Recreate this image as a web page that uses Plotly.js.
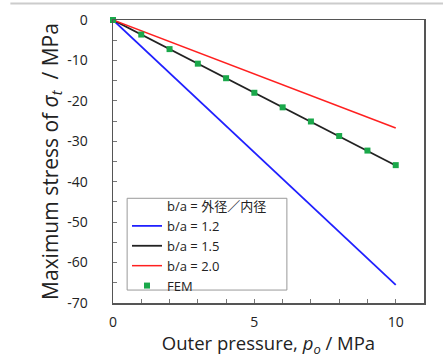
<!DOCTYPE html>
<html>
<head>
<meta charset="utf-8">
<script src="https://cdn.plot.ly/plotly-3.0.1.min.js"></script>
<style>html,body{margin:0;padding:0;background:#fff;}#chart{width:443px;height:358px;}</style>
</head>
<body>
<div id="chart"></div>
<script>
var lineX = [0, 10];
var ratio12 = [0, -65.5];
var ratio15 = [0, -36.0];
var ratio20 = [0, -26.7];
var femX = [0, 1, 2, 3, 4, 5, 6, 7, 8, 9, 10];
var femY = [0, -3.6, -7.2, -10.8, -14.4, -18.0, -21.6, -25.1, -28.7, -32.3, -35.9];
var xTicks = [0, 5, 10];
var yTicks = [0, -10, -20, -30, -40, -50, -60, -70];

var font = "'Open Sans', 'Noto Sans', 'Noto Sans CJK JP', sans-serif";

var traces = [
  {x: [null], y: [null], mode: 'lines', name: 'b/a = 外径／内径', line: {color: 'rgba(0,0,0,0)', width: 0}, hoverinfo: 'skip'},
  {x: lineX, y: ratio12, mode: 'lines', name: 'b/a = 1.2', line: {color: '#2020ff', width: 1.8}},
  {x: lineX, y: ratio15, mode: 'lines', name: 'b/a = 1.5', line: {color: '#222222', width: 1.8}},
  {x: lineX, y: ratio20, mode: 'lines', name: 'b/a = 2.0', line: {color: '#ff2020', width: 1.5}},
  {x: femX, y: femY, mode: 'markers', name: 'FEM', cliponaxis: false, marker: {color: '#1aa84a', symbol: 'square', size: 6}}
];

var layout = {
  width: 443, height: 358,
  margin: {l: 113, r: 19, t: 20, b: 55},
  paper_bgcolor: '#fff', plot_bgcolor: '#fff',
  font: {family: font, color: '#222', size: 13},
  showlegend: true,
  legend: {
    x: 0.045, y: 0.007, xanchor: 'left', yanchor: 'bottom',
    borderwidth: 0, bgcolor: 'rgba(0,0,0,0)',
    font: {size: 13, family: font}, tracegroupgap: 0,
    itemwidth: 30
  },
  xaxis: {
    range: [0, 11], tickvals: xTicks, ticktext: xTicks.map(String),
    ticks: 'inside', ticklen: 0, showgrid: false, zeroline: false,
    showline: true, linecolor: '#555', linewidth: 1.5, mirror: true,
    minor: {dtick: 1, ticks: 'inside', ticklen: 4, tickcolor: '#777'},
    tickfont: {size: 14}, ticklabelstandoff: 6,
    title: {text: 'Outer pressure, <i>p<sub>o</sub></i> / MPa', font: {size: 18.5}, standoff: 7}
  },
  yaxis: {
    range: [-70, 0], tickvals: yTicks, ticktext: yTicks.map(String),
    ticks: 'inside', ticklen: 4, tickcolor: '#777', showgrid: false, zeroline: false,
    showline: true, linecolor: '#555', linewidth: 1.5, mirror: true,
    minor: {dtick: 5, ticks: 'inside', ticklen: 4, tickcolor: '#777'},
    tickfont: {size: 14}, ticklabelstandoff: 21,
    title: {text: 'Maximum stress of <i>σ<sub>t</sub></i>  / MPa', font: {size: 21}, standoff: 3}
  },
  shapes: [
    {type: 'line', xref: 'paper', yref: 'paper', x0: -0.33, x1: 1.07, y0: 1.058, y1: 1.058, line: {color: '#cccccc', width: 2}},
    {type: 'rect', xref: 'x', yref: 'y', x0: 0.5, x1: 6.15, y0: -44.1, y1: -66.8, line: {color: '#999', width: 1}, fillcolor: 'rgba(0,0,0,0)', layer: 'below'}
  ]
};

Plotly.newPlot('chart', traces, layout, {displayModeBar: false, staticPlot: true});
</script>
</body>
</html>
